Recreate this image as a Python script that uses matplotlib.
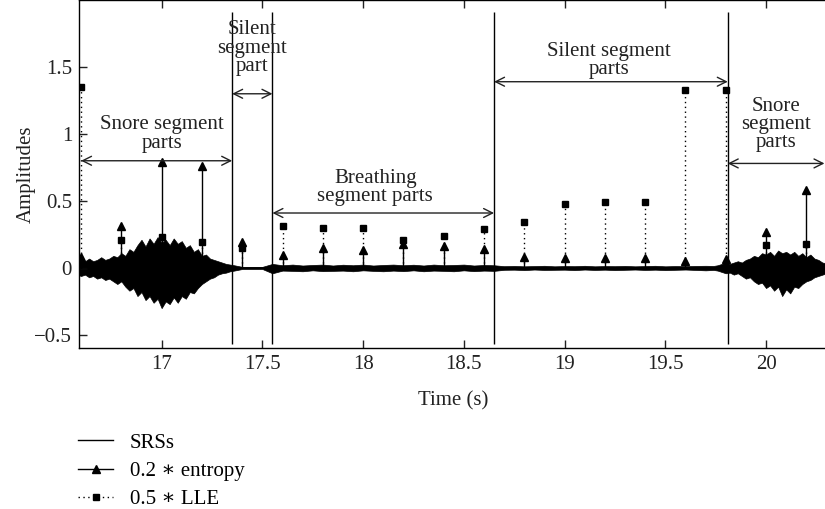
import matplotlib
matplotlib.use("Agg")
import matplotlib.pyplot as plt
from matplotlib.lines import Line2D
import numpy as np

plt.rcParams['font.family'] = ['Liberation Serif', 'DejaVu Serif']

# SRS waveform envelope (upper / lower)
# first snore part, every 0.02 s from 16.58 to 17.36
snore1_hi = [0.04, 0.06, 0.05, 0.07, 0.05, 0.06, 0.08, 0.06, 0.07, 0.09,
             0.08, 0.11, 0.09, 0.14, 0.12, 0.17, 0.21, 0.16, 0.22, 0.18,
             0.23, 0.19, 0.21, 0.17, 0.22, 0.18, 0.20, 0.15, 0.17, 0.12,
             0.14, 0.09, 0.10, 0.07, 0.06, 0.05, 0.04, 0.03, 0.025, 0.02]
snore1_lo = [-0.05, -0.06, -0.05, -0.07, -0.06, -0.08, -0.07, -0.09, -0.08, -0.10,
             -0.12, -0.10, -0.14, -0.17, -0.15, -0.21, -0.18, -0.24, -0.21, -0.26,
             -0.23, -0.30, -0.25, -0.27, -0.22, -0.26, -0.21, -0.23, -0.18, -0.19,
             -0.15, -0.12, -0.10, -0.08, -0.07, -0.05, -0.04, -0.035, -0.025, -0.02]
# silent + breathing + silent parts, every 0.05 s from 17.40 to 19.70
quiet_hi = [0.008, 0.008, 0.008, 0.03, 0.02,
            0.025, 0.018, 0.022, 0.025, 0.018, 0.024, 0.02, 0.025, 0.018, 0.022,
            0.025, 0.02, 0.024, 0.018, 0.025, 0.02, 0.022, 0.025, 0.018, 0.022,
            0.02,
            0.013, 0.015, 0.012, 0.014, 0.016, 0.012, 0.014, 0.013, 0.016, 0.012,
            0.014, 0.013, 0.015, 0.012, 0.014, 0.016, 0.012, 0.014, 0.013, 0.015,
            0.016]
quiet_lo = [-0.008, -0.008, -0.008, -0.04, -0.02,
            -0.022, -0.025, -0.018, -0.024, -0.022, -0.02, -0.025, -0.018, -0.022, -0.025,
            -0.02, -0.024, -0.018, -0.025, -0.02, -0.022, -0.025, -0.018, -0.024, -0.02,
            -0.022,
            -0.014, -0.013, -0.016, -0.012, -0.015, -0.014, -0.013, -0.016, -0.012, -0.015,
            -0.013, -0.016, -0.014, -0.012, -0.015, -0.013, -0.016, -0.014, -0.012, -0.015,
            -0.018]
# second snore part, every 0.02 s from 19.74 to 20.30
snore2_hi = [0.015, 0.02, 0.03, 0.04, 0.03, 0.04, 0.05, 0.04, 0.06, 0.07,
             0.09, 0.08, 0.11, 0.10, 0.12, 0.09, 0.13, 0.11, 0.12, 0.10,
             0.12, 0.09, 0.11, 0.08, 0.10, 0.07, 0.06, 0.04, 0.035]
snore2_lo = [-0.015, -0.02, -0.03, -0.04, -0.035, -0.05, -0.04, -0.06, -0.08, -0.07,
             -0.10, -0.12, -0.11, -0.15, -0.13, -0.17, -0.14, -0.21, -0.16, -0.19,
             -0.14, -0.15, -0.12, -0.10, -0.09, -0.07, -0.06, -0.05, -0.04]

# feature values every 0.2 s
feat_t = [16.6, 16.8, 17.0, 17.2, 17.4, 17.6, 17.8, 18.0, 18.2, 18.4,
          18.6, 18.8, 19.0, 19.2, 19.4, 19.6, 19.8, 20.0, 20.2]
entropy = [0.08, 0.31, 0.79, 0.76, 0.19, 0.095, 0.15, 0.135, 0.18, 0.16,
           0.14, 0.085, 0.077, 0.077, 0.077, 0.05, 0.07, 0.27, 0.58]
lle = [1.35, 0.21, 0.23, 0.19, 0.15, 0.31, 0.30, 0.30, 0.21, 0.235,
       0.29, 0.34, 0.48, 0.49, 0.49, 1.33, 1.33, 0.17, 0.18]

boundaries = [17.35, 17.55, 18.65, 19.81]

segments = [
    ("Snore segment\nparts", 16.6, 17.35, 0.80, 17.0, 1.0),
    ("Silent\nsegment\npart", 17.35, 17.55, 1.30, 17.45, 1.64),
    ("Breathing\nsegment parts", 17.55, 18.65, 0.41, 18.06, 0.60),
    ("Silent segment\nparts", 18.65, 19.81, 1.39, 19.22, 1.55),
    ("Snore\nsegment\nparts", 19.81, 20.29, 0.78, 20.05, 1.07),
]

t_s1 = np.round(np.arange(16.58, 17.37, 0.02), 2)
t_q = np.round(np.arange(17.40, 19.71, 0.05), 2)
t_s2 = np.round(np.arange(19.74, 20.31, 0.02), 2)
env_t = np.concatenate([t_s1, t_q, t_s2])
env_hi = np.concatenate([snore1_hi, quiet_hi, snore2_hi])
env_lo = np.concatenate([snore1_lo, quiet_lo, snore2_lo])

fig = plt.figure(figsize=(8.25, 5.09), dpi=100)
ax = fig.add_axes([0.0958, 0.3157, 0.906, 0.6843])

ax.fill_between(env_t, env_lo, env_hi, color='black', linewidth=0.5)
ax.plot(env_t, np.zeros(len(env_t)), color='black', linewidth=1.2)

ax.vlines(feat_t, 0, lle, colors='black', linestyles=(0, (1, 2.5)), linewidth=1.0)
ax.plot(feat_t, lle, 's', color='black', markersize=5)
ax.vlines(feat_t, 0, entropy, colors='black', linewidth=1.0)
ax.plot(feat_t, entropy, '^', color='black', markersize=6)

ax.vlines(boundaries, -0.57, 1.91, colors='black', linewidth=1.0)

for label, x0, x1, ya, xt, yt in segments:
    ax.annotate('', xy=(x0, ya), xytext=(x1, ya),
                arrowprops=dict(arrowstyle='<->', color='#222222', lw=1.0,
                                shrinkA=0, shrinkB=0, mutation_scale=16))
    ax.text(xt, yt, label, ha='center', va='center', fontsize=15,
            linespacing=0.95, color='#222222')

ax.set_xlim(16.59, 20.3)
ax.set_ylim(-0.6, 2.0)
ax.set_xticks([17, 17.5, 18, 18.5, 19, 19.5, 20])
ax.set_xticklabels(['17', '17.5', '18', '18.5', '19', '19.5', '20'])
ax.set_yticks([-0.5, 0, 0.5, 1, 1.5])
ax.set_yticklabels(['\u22120.5', '0', '0.5', '1', '1.5'])
ax.tick_params(direction='in', length=6, width=1.0, labelsize=15, top=True,
               right=False, colors='#222222', pad=5)
ax.spines['right'].set_visible(False)
for s in ['left', 'bottom', 'top']:
    ax.spines[s].set_linewidth(1.0)
ax.set_xlabel('Time (s)', fontsize=15, labelpad=12, color='#222222')
ax.set_ylabel('Amplitudes', fontsize=15, labelpad=-1, color='#222222')

handles = [
    Line2D([], [], color='black', linewidth=1.0),
    Line2D([], [], color='black', linewidth=1.0, marker='^', markersize=6),
    Line2D([], [], color='black', linewidth=1.0, linestyle=(0, (1, 2.5)),
           marker='s', markersize=5),
]
labels = ['SRSs', '0.2 \u2217 entropy', '0.5 \u2217 LLE']
fig.legend(handles, labels, loc='upper left', bbox_to_anchor=(0.0945, 0.149),
           frameon=False, fontsize=15, handlelength=1.7, handletextpad=0.8,
           labelspacing=0.42, numpoints=1, borderaxespad=0, borderpad=0)

fig.savefig('out.png', dpi=100)
